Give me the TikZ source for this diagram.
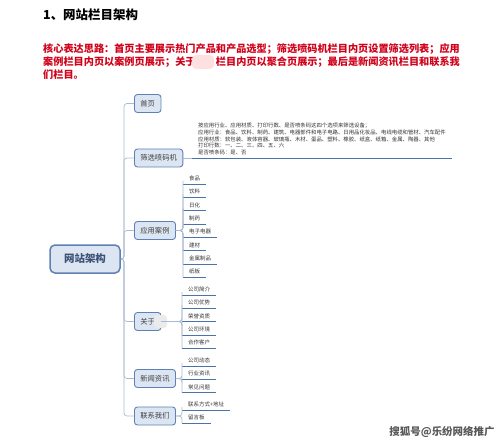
\documentclass[tikz,border=0pt]{standalone}
\usepackage{fontspec}
\setmainfont{Noto Sans CJK SC}

\definecolor{boxfill}{HTML}{DCE6F2}
\definecolor{boxline}{HTML}{5F80B4}
\definecolor{linkcol}{HTML}{A9BBD2}
\definecolor{ulinecol}{HTML}{4C72AA}
\definecolor{redtext}{HTML}{D0021B}
\definecolor{roottext}{HTML}{3E5277}

\tikzset{
  topic/.style={rectangle, rounded corners=3bp, draw=boxline, fill=boxfill, line width=0.9bp,
    anchor=west, minimum height=18bp, inner xsep=6bp, font=\fontsize{7.3}{8}\selectfont, text=black!75},
  central/.style={topic, anchor=center, rounded corners=5bp, line width=1.5bp, minimum width=70bp,
    minimum height=28bp, font=\fontsize{10.5}{12}\selectfont\bfseries, text=roottext},
  uline/.style={draw=ulinecol, line width=0.8bp},
  leaf/.style={anchor=south west, inner xsep=6bp, inner ysep=3bp, font=\fontsize{5.5}{6.7}\selectfont,
    text=black!80, append after command={(\tikzlastnode.south west) edge[uline] (\tikzlastnode.south east)}},
  link/.style={draw=linkcol, line width=0.7bp, rounded corners=3bp},
  redline/.style={anchor=west, inner sep=0pt, text=redtext, font=\fontsize{10.2}{13}\selectfont\bfseries},
}

\begin{document}
\begin{tikzpicture}[x=1bp,y=-1bp]
   \useasboundingbox (0,0) rectangle (499,441);
   % heading and summary
   \node[anchor=west, inner sep=0pt, font=\fontsize{12.5}{14}\selectfont\bfseries] (title) at (43,15) {1、网站栏目架构};
   \node[redline] (idea1) at (43,49) {核心表达思路：首页主要展示热门产品和产品选型；筛选喷码机栏目内页设置筛选列表；应用};
   \node[redline] (idea2) at (43,62) {案例栏目内页以案例页展示；关于\hspace{2em}栏目内页以聚合页展示；最后是新闻资讯栏目和联系我};
   \node[redline] (idea3) at (43,75) {们栏目。};
   \fill[red!12, rounded corners=4bp] (192,55) rectangle (214,69);

   % mind map
   \node[central] (root) at (85,259) {网站架构};
   \node[topic] (home) at (134,103.5) {首页};
   \node[topic] (filter) at (134,158) {筛选喷码机};
   \node[topic] (cases) at (134,230.5) {应用案例};
   \node[topic] (about) at (134,321.5) {关于\hspace{2em}};
   \fill[black!8, rounded corners=3bp] (154,315) rectangle (167,328);
   \node[topic] (news) at (134,378.5) {新闻资讯};
   \node[topic] (contact) at (134,416) {联系我们};

   \coordinate (trunk) at (124,259);
   \coordinate (bcases) at (183,230.5);
   \coordinate (babout) at (182,321.5);
   \coordinate (bnews) at (182,378.5);
   \coordinate (bcontact) at (182,416);

   \node[leaf, align=left, font=\fontsize{5.4}{6.7}\selectfont] (filterinfo) at (192,158) {按应用行业、应用材质、打印行数、是否喷条码这四个选项来筛选设备；\\
     应用行业：食品、饮料、制药、建筑、电器部件和电子电路、日用品化妆品、电线电缆和管材、汽车配件\\
     应用材质：软包装、液体容器、玻璃瓶、木材、蛋品、塑料、橡胶、纸盒、纸箱、金属、陶器、其他\\
     打印行数：一、二、三、四、五、六\\
     是否喷条码：是、否};

   \node[leaf] (c1) at (183,184) {食品};
   \node[leaf] (c2) at (183,197.3) {饮料};
   \node[leaf] (c3) at (183,210.7) {日化};
   \node[leaf] (c4) at (183,224) {制药};
   \node[leaf] (c5) at (183,237.3) {电子电器};
   \node[leaf] (c6) at (183,250.7) {建材};
   \node[leaf] (c7) at (183,264) {金属制品};
   \node[leaf] (c8) at (183,277.3) {纸板};

   \node[leaf] (a1) at (182,295) {公司简介};
   \node[leaf] (a2) at (182,308.3) {公司优势};
   \node[leaf] (a3) at (182,321.7) {荣誉资质};
   \node[leaf] (a4) at (182,335) {公司环境};
   \node[leaf] (a5) at (182,348.3) {合作客户};

   \node[leaf] (n1) at (182,366) {公司动态};
   \node[leaf] (n2) at (182,379.3) {行业资讯};
   \node[leaf] (n3) at (182,392.7) {常见问题};

   \node[leaf] (k1) at (182,410) {联系方式+地址};
   \node[leaf] (k2) at (182,423.3) {留言板};

   % connectors
   \draw[link] (root.east) -- (trunk) |- (home.west);
   \draw[link] (root.east) -- (trunk) |- (filter.west);
   \draw[link] (root.east) -- (trunk) |- (cases.west);
   \draw[link] (root.east) -- (trunk) |- (about.west);
   \draw[link] (root.east) -- (trunk) |- (news.west);
   \draw[link] (root.east) -- (trunk) |- (contact.west);

   \draw[link] (filter.east) -- (filterinfo.south west);

   \draw[link] (cases.east) -- (bcases) |- (c1.south west);
   \draw[link] (cases.east) -- (bcases) |- (c2.south west);
   \draw[link] (cases.east) -- (bcases) |- (c3.south west);
   \draw[link] (cases.east) -- (bcases) |- (c4.south west);
   \draw[link] (cases.east) -- (bcases) |- (c5.south west);
   \draw[link] (cases.east) -- (bcases) |- (c6.south west);
   \draw[link] (cases.east) -- (bcases) |- (c7.south west);
   \draw[link] (cases.east) -- (bcases) |- (c8.south west);

   \draw[link] (about.east) -- (babout) |- (a1.south west);
   \draw[link] (about.east) -- (babout) |- (a2.south west);
   \draw[link] (about.east) -- (babout) |- (a3.south west);
   \draw[link] (about.east) -- (babout) |- (a4.south west);
   \draw[link] (about.east) -- (babout) |- (a5.south west);

   \draw[link] (news.east) -- (bnews) |- (n1.south west);
   \draw[link] (news.east) -- (bnews) |- (n2.south west);
   \draw[link] (news.east) -- (bnews) |- (n3.south west);

   \draw[link] (contact.east) -- (bcontact) |- (k1.south west);
   \draw[link] (contact.east) -- (bcontact) |- (k2.south west);

   % watermark
   \node[font=\fontsize{10.5}{12}\selectfont\bfseries, text=black!65] (mark) at (442,432) {搜狐号@乐纷网络推广};
\end{tikzpicture}
\end{document}
